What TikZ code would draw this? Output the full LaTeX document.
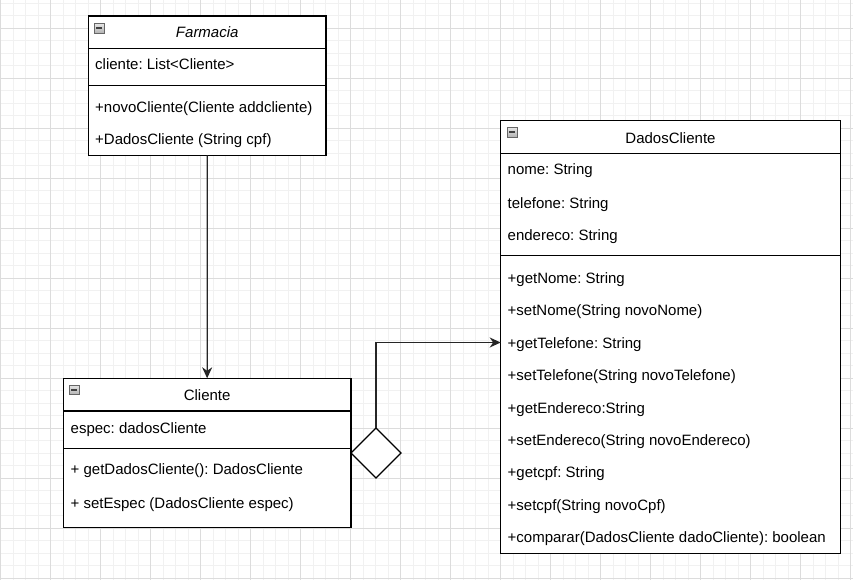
\documentclass[tikz,border=0pt]{standalone}
\usepackage{fontspec}
\setmainfont{Liberation Sans}
\usetikzlibrary{arrows.meta,shapes.geometric}

\definecolor{gridminor}{HTML}{F1F1F1}
\definecolor{gridmajor}{HTML}{DCDCDC}
\definecolor{linegray}{HTML}{262626}

\tikzset{
  classbox/.style={draw=black, line width=1.2pt, fill=white, rectangle,
    inner sep=0pt, outer sep=0pt},
  sep/.style={draw=black, line width=1.2pt},
  member/.style={anchor=base west, inner sep=0pt, font=\fontsize{15}{18}\selectfont},
  title/.style={anchor=base, inner sep=0pt, font=\fontsize{15}{18}\selectfont},
  conn/.style={draw=linegray, line width=1.3pt,
    -{Stealth[length=11pt,width=10pt,inset=3.5pt]}},
  aggr/.style={draw=black, line width=1.2pt, fill=white, diamond,
    inner sep=0pt, outer sep=0pt, minimum width=50pt, minimum height=50pt},
  foldbox/.style={draw=gray!80!black, line width=0.6pt,
    top color=gray!20, bottom color=gray!60},
  foldbar/.style={draw=black!75, line width=1.5pt},
}

% small collapse marker drawn in the corner of each class header
\newcommand{\foldmark}[2]{%
  \draw[foldbox] (#1,#2) rectangle ++(10.5,9.5);
  \draw[foldbar] (#1+2.2,#2+4.75) -- ++(6.1,0);
}

\begin{document}
\frenchspacing
\begin{tikzpicture}[x=1pt,y=-1pt]
\useasboundingbox (0,0) rectangle (853,580);
\fill[white] (0,0) rectangle (853,580);

% background grid
\foreach \k in {0,...,68} \draw[gridminor, line width=1pt] (0.5+12.5*\k,0) -- (0.5+12.5*\k,580);
\foreach \k in {0,...,46} \draw[gridminor, line width=1pt] (0,3.3+12.5*\k) -- (853,3.3+12.5*\k);
\foreach \k in {0,...,17} \draw[gridmajor, line width=1pt] (0.5+50*\k,0) -- (0.5+50*\k,580);
\foreach \k in {0,...,11} \draw[gridmajor, line width=1pt] (0,28.3+50*\k) -- (853,28.3+50*\k);

% ---------- Farmacia ----------
\node[classbox, minimum width=237.5pt, minimum height=139.5pt] (farm) at (207.25,85.75) {};
\draw[sep] (farm.west |- 0,48.3) -- (farm.east |- 0,48.3);
\draw[sep] (farm.west |- 0,85.3) -- (farm.east |- 0,85.3);
\foldmark{94}{23.5}
\node[title, font=\fontsize{15}{18}\selectfont\itshape] (farmT) at (207.25,37.7) {Farmacia};
\node[member] (farmA1) at (95,70) {cliente: List<Cliente>};
\node[member] (farmM1) at (95,113) {+novoCliente(Cliente addcliente)};
\node[member] (farmM2) at (95,145) {+DadosCliente (String cpf)};

% ---------- Cliente ----------
\node[classbox, minimum width=287.7pt, minimum height=149.4pt] (cli) at (207.15,453) {};
\draw[sep] (cli.west |- 0,411) -- (cli.east |- 0,411);
\draw[sep] (cli.west |- 0,448.3) -- (cli.east |- 0,448.3);
\foldmark{69}{385}
\node[title] (cliT) at (207.15,400) {Cliente};
\node[member] (cliA1) at (70.5,433.3) {espec: dadosCliente};
\node[member] (cliM1) at (70.5,474.3) {+ getDadosCliente(): DadosCliente};
\node[member] (cliM2) at (70.5,508.3) {+ setEspec (DadosCliente espec)};

% ---------- DadosCliente ----------
\node[classbox, minimum width=339.6pt, minimum height=432.6pt] (dados) at (670.5,337) {};
\draw[sep] (dados.west |- 0,153.3) -- (dados.east |- 0,153.3);
\draw[sep] (dados.west |- 0,255.7) -- (dados.east |- 0,255.7);
\foldmark{507}{127.5}
\node[title] (dadosT) at (670.5,143.3) {DadosCliente};
\node[member] (dA1) at (507.5,175) {nome: String};
\node[member] (dA2) at (507.5,208.3) {telefone: String};
\node[member] (dA3) at (507.5,240) {endereco: String};
\node[member] (dM1) at (507.5,283.3) {+getNome: String};
\node[member] (dM2) at (507.5,315) {+setNome(String novoNome)};
\node[member] (dM3) at (507.5,348.3) {+getTelefone: String};
\node[member] (dM4) at (507.5,380) {+setTelefone(String novoTelefone)};
\node[member] (dM5) at (507.5,413.3) {+getEndereco:String};
\node[member] (dM6) at (507.5,445) {+setEndereco(String novoEndereco)};
\node[member] (dM7) at (507.5,477.7) {+getcpf: String};
\node[member] (dM8) at (507.5,510) {+setcpf(String novoCpf)};
\node[member] (dM9) at (507.5,542.7) {+comparar(DadosCliente dadoCliente): boolean};

% ---------- relations ----------
\node[aggr] (agg) at (376,453) {};
\coordinate (dIn) at (dados.west |- 0,342.5);

\draw[conn] (farm.south) -- (cli.north);
\draw[conn] (agg.north) |- (dIn);
\end{tikzpicture}
\end{document}
